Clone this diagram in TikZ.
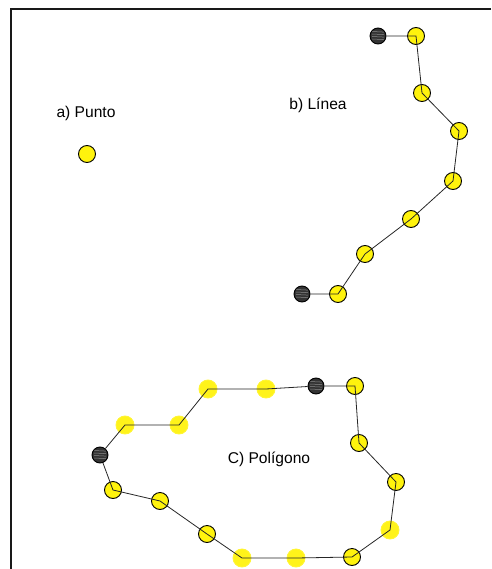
\documentclass[tikz,border=0pt]{standalone}
\usepackage{fontspec}
\setmainfont{Liberation Sans}
\begin{document}
\begin{tikzpicture}[x=1pt,y=-1pt,
  vtx/.style={circle,draw=black,line width=0.9pt,fill=yellow!95!white,minimum size=17pt,inner sep=0pt},
  softvtx/.style={circle,draw=yellow!80!white,line width=0.9pt,fill=yellow!90!white,minimum size=18pt,inner sep=0pt},
  endvtx/.style={circle,draw=black,line width=0.9pt,fill=black!80,minimum size=16pt,inner sep=0pt,
    path picture={
      \foreach \dy in {-3,-0.5,2,4.5}
        \draw[white!55!black,line width=0.5pt]
          ([shift={(-6pt,\dy pt)}]path picture bounding box.center) --
          ([shift={(6pt,\dy pt-0.6pt)}]path picture bounding box.center);
    }},
  edge/.style={line width=0.8pt,black!85},
  lbl/.style={font=\fontsize{15.6}{18}\selectfont}]
\useasboundingbox (0,0) rectangle (491,569);
% frame: top and left sides
\draw[line width=2pt,black!90] (491,9.5) -- (10.5,9.5) -- (10.5,569);

% a) point
\node[lbl] (la) at (86,113) {a) Punto};
\node[vtx] (p) at (87,154) {};

% b) line
\node[lbl] (lb) at (318,105) {b) Línea};
\node[endvtx] (b0) at (378,36) {};
\node[vtx] (b1) at (416,36) {};
\node[vtx] (b2) at (422,93) {};
\node[vtx] (b3) at (459,131) {};
\node[vtx] (b4) at (453,181) {};
\node[vtx] (b5) at (411,219) {};
\node[vtx] (b6) at (365,254) {};
\node[vtx] (b7) at (338,294) {};
\node[endvtx] (b8) at (302,294) {};
\draw[edge] (b0) -- (b1.center) -- (b2.center) -- (b3.center) -- (b4.center)
  -- (b5.center) -- (b6.center) -- (b7.center) -- (b8);

% c) polygon
\node[lbl] (lc) at (269,459) {C) Polígono};
\node[endvtx] (c0) at (316,386) {};
\node[vtx] (c1) at (355,386) {};
\node[vtx] (c2) at (359,443) {};
\node[vtx] (c3) at (396,482) {};
\node[softvtx] (c4) at (390,530) {};
\node[vtx] (c5) at (352,557) {};
\node[softvtx] (c6) at (296,558) {};
\node[softvtx] (c7) at (242,558) {};
\node[vtx] (c8) at (207,534) {};
\node[vtx] (c9) at (160,501) {};
\node[vtx] (c10) at (113,490) {};
\node[endvtx] (c11) at (100,455) {};
\node[softvtx] (c12) at (125,425) {};
\node[softvtx] (c13) at (179,425) {};
\node[softvtx] (c14) at (208,389) {};
\node[softvtx] (c15) at (266,389) {};
\draw[edge] (c0) -- (c1.center) -- (c2.center) -- (c3.center) -- (c4.center)
  -- (c5.center) -- (c6.center) -- (c7.center) -- (c8.center) -- (c9.center)
  -- (c10.center) -- (c11);
\draw[edge] (c11) -- (c12.center) -- (c13.center) -- (c14.center) -- (c15.center) -- (c0);
\end{tikzpicture}
\end{document}
